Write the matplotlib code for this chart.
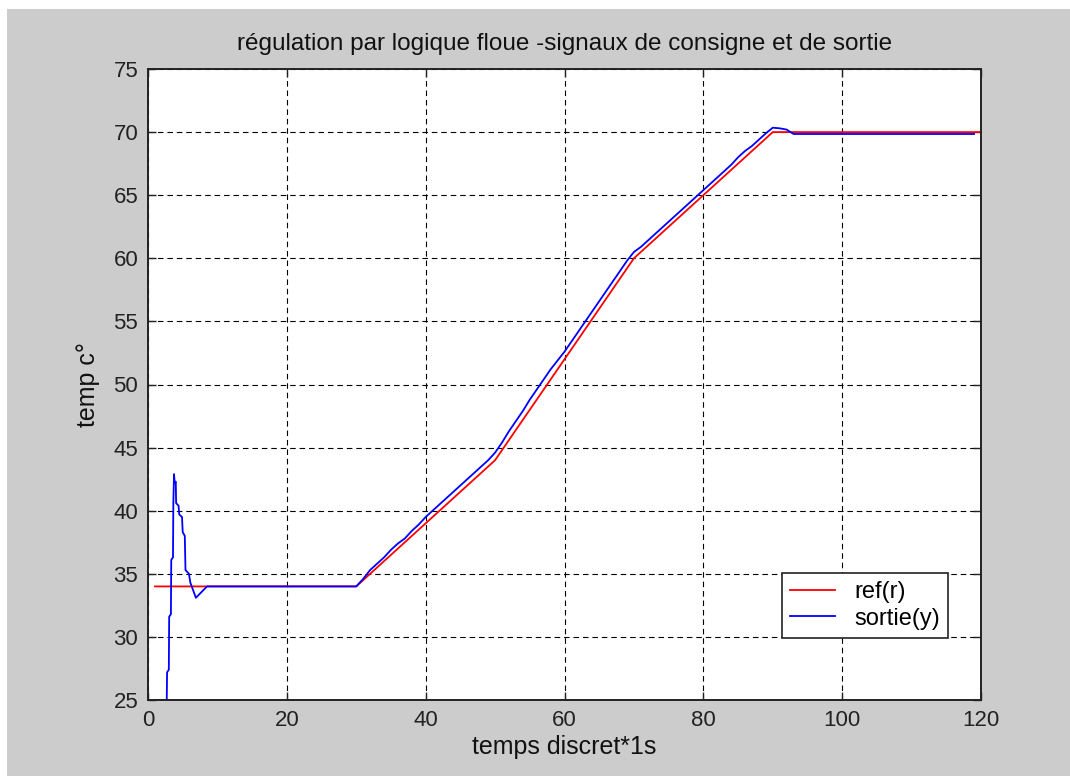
import matplotlib
matplotlib.use('Agg')
import matplotlib.pyplot as plt
from matplotlib.patches import Rectangle

plt.rcParams['font.family'] = ['Liberation Sans', 'DejaVu Sans']

# reference signal (consigne): breakpoints of the piecewise ramp
ref_t = [1, 30, 50, 70, 90, 120]
ref_y = [34, 34, 44, 60, 70, 70]

# plant output (sortie) read at its vertices
out_t = [1, 2.7, 2.75, 3.0, 3.05, 3.3, 3.35, 3.6, 3.65, 3.75, 3.85, 4.0, 4.05, 4.4,
         4.5, 4.9, 5.0, 5.3, 5.4, 5.9, 6.1, 6.9, 8.5, 9, 10, 20,
         30, 31, 32, 33, 34, 35, 36, 37, 38, 39, 40, 41, 42, 43, 44, 45, 46, 47, 48, 49,
         50, 51, 52, 53, 54, 55, 56, 57, 58, 59, 60, 61, 62, 63, 64, 65, 66, 67, 68, 69,
         70, 71, 72, 73, 74, 75, 76, 77, 78, 79, 80, 81, 82, 83, 84, 85, 86, 87, 88, 89,
         90, 91, 92, 93, 100, 110, 119]
out_y = [25, 25, 27.2, 27.4, 31.6, 31.8, 36.1, 36.3, 40.6, 42.9, 42.2, 42.3, 40.6, 40.4,
         39.7, 39.5, 38.3, 38.0, 35.3, 35.0, 34.3, 33.1, 34.0, 34.0, 34.0, 34.0,
         34.0, 34.6, 35.3, 35.8, 36.3, 36.9, 37.4, 37.8, 38.4, 38.9, 39.5, 40.0, 40.5, 41.0, 41.5, 42.0, 42.5, 43.0, 43.5, 44.0,
         44.6, 45.4, 46.3, 47.1, 47.9, 48.8, 49.6, 50.4, 51.2, 51.9, 52.6, 53.4, 54.2, 55.0, 55.8, 56.6, 57.4, 58.2, 59.0, 59.8,
         60.5, 60.9, 61.4, 61.9, 62.4, 62.9, 63.4, 63.9, 64.4, 64.9, 65.4, 65.9, 66.4, 66.9, 67.4, 68.0, 68.5, 68.9, 69.4, 69.9,
         70.35, 70.3, 70.2, 69.85, 69.85, 69.85, 69.85]

fig = plt.figure(figsize=(10.7, 7.76), dpi=100, facecolor='white')
# grey window background with a thin white margin on the top and left
fig.patches.append(Rectangle((7 / 1070, 0), 1, (776 - 9) / 776,
                             transform=fig.transFigure, facecolor='#cccccc',
                             edgecolor='none', zorder=-10))

ax = fig.add_axes([148 / 1070, 76 / 776, 833 / 1070, 631 / 776])
ax.plot(ref_t, ref_y, color='#ff0000', linewidth=1.3, label='ref(r)')
ax.plot(out_t, out_y, color='#0000ff', linewidth=1.3, label='sortie(y)')

ax.set_xlim(0, 120)
ax.set_ylim(25, 75)
ax.set_xticks(range(0, 121, 20))
ax.set_yticks(range(25, 76, 5))
ax.grid(True, color='black', linestyle=(0, (5, 3.5)), linewidth=0.8)
ax.tick_params(direction='in', top=True, right=True, length=6, width=1,
               labelsize=16, pad=7, colors='#222222')
for sp in ax.spines.values():
    sp.set_linewidth(1.4)
    sp.set_color('#222222')

ax.set_title('régulation par logique floue -signaux de consigne et de sortie',
             fontsize=17.5, pad=14, color='#111111')
ax.set_xlabel('temps discret*1s', fontsize=18, labelpad=3, color='#111111')
ax.set_ylabel('temp c°', fontsize=18, labelpad=10, color='#111111')

leg = ax.legend(loc='center', bbox_to_anchor=(0.861, 0.150), fontsize=17,
                fancybox=False, framealpha=1, edgecolor='#222222',
                handlelength=1.9, borderpad=0.35, labelspacing=0.2,
                handletextpad=0.8, borderaxespad=0)
leg.get_frame().set_linewidth(1.2)

fig.savefig('out.png', dpi=100, facecolor=fig.get_facecolor())
